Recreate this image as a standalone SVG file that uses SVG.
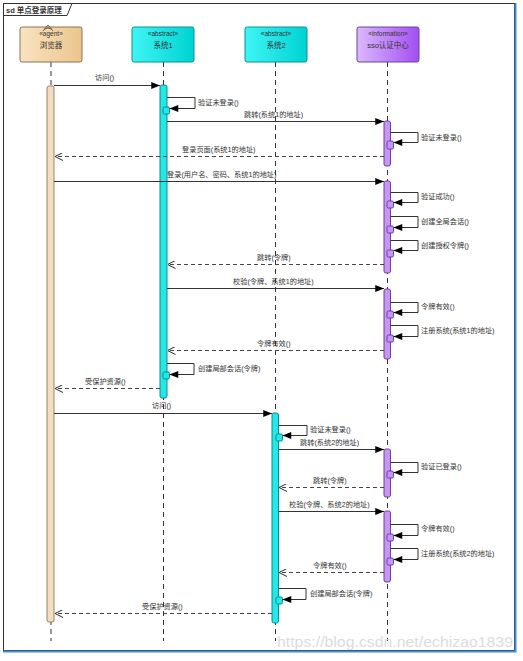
<svg xmlns="http://www.w3.org/2000/svg" width="523" height="661" viewBox="0 0 523 661">
<defs>
<linearGradient id="gTan" x1="0" y1="0" x2="1" y2="0"><stop offset="0" stop-color="#f9e3c0"/><stop offset="1" stop-color="#ebc58d"/></linearGradient>
<linearGradient id="gCyan" x1="0" y1="0" x2="1" y2="0"><stop offset="0" stop-color="#3ff5f5"/><stop offset="1" stop-color="#00d2d2"/></linearGradient>
<linearGradient id="gPur" x1="0" y1="0" x2="1" y2="0"><stop offset="0" stop-color="#dcb8ff"/><stop offset="1" stop-color="#a24ef2"/></linearGradient>
<marker id="fa" viewBox="0 0 10 8" refX="10" refY="4" markerWidth="10" markerHeight="7" orient="auto" markerUnits="userSpaceOnUse"><path d="M0,0 L10,4 L0,8 z" fill="#000"/></marker>
<marker id="oa" viewBox="0 0 10 10" refX="10" refY="5" markerWidth="8" markerHeight="8" orient="auto" markerUnits="userSpaceOnUse"><path d="M0,0 L10,5 L0,10" fill="none" stroke="#222" stroke-width="1.2"/></marker>
</defs>
<style>
text{font-family:"Liberation Sans","Noto Sans CJK SC",sans-serif;fill:#333}
.lbl{font-size:7.2px}
.hd{font-size:7.5px;text-anchor:middle}
.st{font-size:6.5px;text-anchor:middle}
.life{stroke:#333;stroke-width:1;stroke-dasharray:5,4;fill:none}
.msg{stroke:#333;stroke-width:1;fill:none;marker-end:url(#fa)}
.ret{stroke:#444;stroke-width:1;stroke-dasharray:4,3;fill:none;marker-end:url(#oa)}
.self{stroke:#333;stroke-width:1;fill:none;marker-end:url(#fa)}
.barT{fill:#f0ddc2;stroke:#9a8466;stroke-width:1}
.barC{fill:#22e8e8;stroke:#0c8c8c;stroke-width:1}
.barP{fill:#c596f2;stroke:#6e3fa0;stroke-width:1}
</style>
<rect x="0" y="0" width="523" height="661" fill="#ffffff"/>
<g id="frame">
<rect x="3.5" y="3.5" width="511" height="647" fill="#ffffff" stroke="#333" stroke-width="1"/>
<path d="M515.5,3 V651.5 H3" fill="none" stroke="#3d8ee0" stroke-width="2"/>
<path d="M3.5,15.5 H67 L72,3.5" fill="none" stroke="#333" stroke-width="1"/>
<text x="6" y="12.5" style="font-size:7.5px;font-weight:bold">sd 单点登录原理</text>
</g>
<g id="lifelines">
<line class="life" x1="51" y1="62" x2="51" y2="641"/>
<line class="life" x1="163.5" y1="62" x2="163.5" y2="641"/>
<line class="life" x1="275.5" y1="62" x2="275.5" y2="641"/>
<line class="life" x1="387.5" y1="62" x2="387.5" y2="641"/>
</g>
<g id="browser">
<rect x="20" y="27" width="62" height="35" rx="2" fill="url(#gTan)" stroke="#8a7258" stroke-width="1"/>
<path d="M43,31 L48,25 L53,31 M44.5,29 Q48,27 51.5,29" fill="none" stroke="#444" stroke-width="0.8"/>
<text class="st" x="51" y="35.5">«agent»</text>
<text class="hd" x="51" y="48">浏览器</text>
<rect class="barT" x="47" y="86" width="7" height="536" rx="2"/>
</g>
<g id="sys1">
<rect x="132" y="27" width="62" height="35" rx="2" fill="url(#gCyan)" stroke="#0f8f8f" stroke-width="1"/>
<text class="st" x="163" y="35.5">«abstract»</text>
<text class="hd" x="163" y="48">系统1</text>
<rect class="barC" x="160" y="85" width="7" height="313" rx="2"/>
<rect class="barC" x="163" y="107" width="6.5" height="7" rx="1.5"/>
<rect class="barC" x="163" y="372" width="6.5" height="7" rx="1.5"/>
</g>
<g id="sys2">
<rect x="245" y="27" width="62" height="35" rx="2" fill="url(#gCyan)" stroke="#0f8f8f" stroke-width="1"/>
<text class="st" x="276" y="35.5">«abstract»</text>
<text class="hd" x="276" y="48">系统2</text>
<rect class="barC" x="272" y="413" width="6.5" height="210" rx="2"/>
<rect class="barC" x="276" y="434" width="6.5" height="7" rx="1.5"/>
<rect class="barC" x="276" y="597" width="6.5" height="7" rx="1.5"/>
</g>
<g id="sso">
<rect x="357" y="27" width="62" height="35" rx="2" fill="url(#gPur)" stroke="#6a4a8a" stroke-width="1"/>
<text class="st" x="388" y="35.5">«information»</text>
<text class="hd" x="388" y="48">sso认证中心</text>
<rect class="barP" x="384" y="121" width="6.5" height="45" rx="2"/>
<rect class="barP" x="387" y="141" width="6.5" height="8" rx="1.5"/>
<rect class="barP" x="384" y="181" width="6.5" height="92" rx="2"/>
<rect class="barP" x="387" y="201" width="6.5" height="7" rx="1.5"/>
<rect class="barP" x="387" y="226" width="6.5" height="7" rx="1.5"/>
<rect class="barP" x="387" y="250" width="6.5" height="7" rx="1.5"/>
<rect class="barP" x="384" y="289" width="6.5" height="70" rx="2"/>
<rect class="barP" x="387" y="311" width="6.5" height="7" rx="1.5"/>
<rect class="barP" x="387" y="335" width="6.5" height="7" rx="1.5"/>
<rect class="barP" x="384" y="449" width="6.5" height="48" rx="2"/>
<rect class="barP" x="387" y="471" width="6.5" height="7" rx="1.5"/>
<rect class="barP" x="384" y="511" width="6.5" height="71" rx="2"/>
<rect class="barP" x="387" y="534" width="6.5" height="7" rx="1.5"/>
<rect class="barP" x="387" y="558" width="6.5" height="7" rx="1.5"/>
</g>
<g id="connectors">
<path class="msg" d="M54,85.5 H160"/>
<text class="lbl" x="95" y="80">访问()</text>
<path class="self" d="M167,97.5 H195 V108.5 H169.5"/>
<text class="lbl" x="198" y="104.5">验证未登录()</text>
<path class="msg" d="M167,121.5 H384"/>
<text class="lbl" x="244" y="117">跳转(系统1的地址)</text>
<path class="self" d="M390.5,132.5 H418 V142.5 H393.5"/>
<text class="lbl" x="421" y="139.5">验证未登录()</text>
<path class="ret" d="M384,156.5 H55"/>
<text class="lbl" x="182" y="151.5">登录页面(系统1的地址)</text>
<path class="msg" d="M54,181.5 H384"/>
<text class="lbl" x="167" y="176.5">登录(用户名、密码、系统1的地址)</text>
<path class="self" d="M390.5,192.5 H418 V202.5 H393.5"/>
<text class="lbl" x="421" y="199">验证成功()</text>
<path class="self" d="M390.5,216.5 H418 V227.5 H393.5"/>
<text class="lbl" x="421" y="223.5">创建全局会话()</text>
<path class="self" d="M390.5,240.5 H418 V250.5 H393.5"/>
<text class="lbl" x="421" y="247.5">创建授权令牌()</text>
<path class="ret" d="M384,264.5 H167.5"/>
<text class="lbl" x="257" y="260">跳转(令牌)</text>
<path class="msg" d="M167,288.5 H384"/>
<text class="lbl" x="233" y="284">校验(令牌、系统1的地址)</text>
<path class="self" d="M390.5,302.5 H418 V312.5 H393.5"/>
<text class="lbl" x="421" y="309">令牌有效()</text>
<path class="self" d="M390.5,325.5 H418 V336.5 H393.5"/>
<text class="lbl" x="421" y="332.5">注册系统(系统1的地址)</text>
<path class="ret" d="M384,350.5 H167.5"/>
<text class="lbl" x="257" y="345.5">令牌有效()</text>
<path class="self" d="M167,363.5 H194 V374.5 H169.5"/>
<text class="lbl" x="198" y="370.5">创建局部会话(令牌)</text>
<path class="ret" d="M160,388.5 H55"/>
<text class="lbl" x="85" y="384">受保护资源()</text>
<path class="msg" d="M54,413.5 H272"/>
<text class="lbl" x="152" y="408">访问()</text>
<path class="self" d="M278.5,425.5 H307 V435.5 H282.5"/>
<text class="lbl" x="310" y="432">验证未登录()</text>
<path class="msg" d="M278.5,449.5 H384"/>
<text class="lbl" x="300" y="445">跳转(系统2的地址)</text>
<path class="self" d="M390.5,462.5 H418 V472.5 H393.5"/>
<text class="lbl" x="421" y="469">验证已登录()</text>
<path class="ret" d="M384,487.5 H279"/>
<text class="lbl" x="313" y="482.5">跳转(令牌)</text>
<path class="msg" d="M278.5,511.5 H384"/>
<text class="lbl" x="289" y="507">校验(令牌、系统2的地址)</text>
<path class="self" d="M390.5,524.5 H418 V535.5 H393.5"/>
<text class="lbl" x="421" y="531">令牌有效()</text>
<path class="self" d="M390.5,548.5 H418 V559.5 H393.5"/>
<text class="lbl" x="421" y="555.5">注册系统(系统2的地址)</text>
<path class="ret" d="M384,572.5 H279"/>
<text class="lbl" x="313" y="568">令牌有效()</text>
<path class="self" d="M278.5,588.5 H306 V599.5 H282.5"/>
<text class="lbl" x="310" y="595.5">创建局部会话(令牌)</text>
<path class="ret" d="M272,613.5 H55"/>
<text class="lbl" x="142" y="609">受保护资源()</text>
</g>
<text x="277" y="647" textLength="236" lengthAdjust="spacingAndGlyphs" style="font-size:15.5px;fill:#dcdcdc">https://blog.csdn.net/echizao1839</text>
</svg>
